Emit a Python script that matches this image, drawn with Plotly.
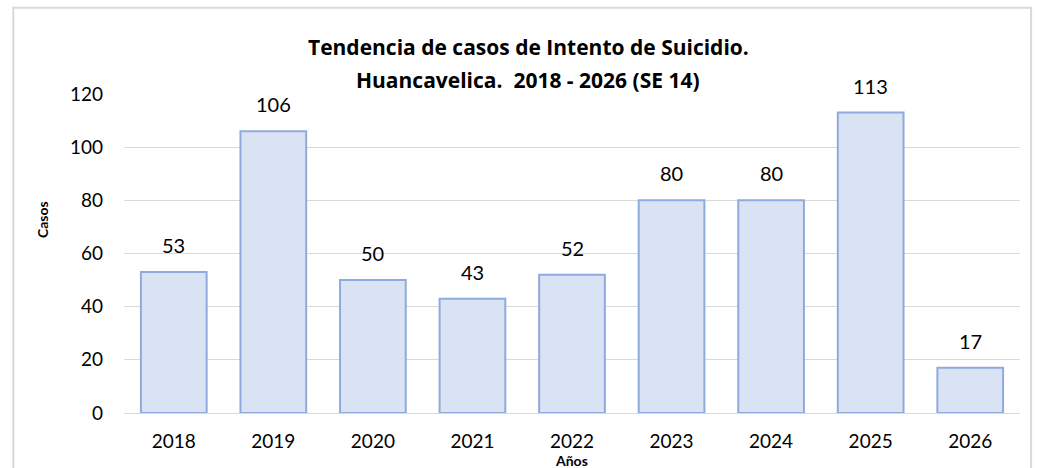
import plotly.graph_objects as go

# Casos de intento de suicidio por año
anios = ["2018", "2019", "2020", "2021", "2022", "2023", "2024", "2025", "2026"]
casos = [53, 106, 50, 43, 52, 80, 80, 113, 17]
ticks_y = [0, 20, 40, 60, 80, 100, 120]

FONT = "Lato, Open Sans, sans-serif"
FONT_TITULO = "Open Sans, Lato, sans-serif"

fig = go.Figure()
fig.add_trace(go.Bar(
    x=anios, y=casos,
    marker=dict(color="#DAE3F3", line=dict(color="#8FAADC", width=2)),
    width=0.66,
    hoverinfo="x+y",
))

# Etiquetas de valor sobre cada barra (posición por índice de categoría)
for i, c in enumerate(casos):
    fig.add_annotation(x=i, y=c, text=str(c), showarrow=False,
                       yshift=27, font=dict(size=20, color="#000000", family=FONT))

fig.update_layout(
    width=1042, height=468,
    margin=dict(l=124, r=22, t=94, b=55),
    paper_bgcolor="white", plot_bgcolor="white",
    showlegend=False,
    font=dict(family=FONT, size=19, color="#000000"),
    xaxis=dict(
        type="category", categoryorder="array", categoryarray=anios,
        range=[-0.5, len(anios) - 0.5],
        showgrid=False, showline=False, zeroline=False,
        tickfont=dict(size=19), ticks="", ticklabelstandoff=15,
    ),
    yaxis=dict(
        range=[0, 120], tickvals=ticks_y,
        showgrid=True, gridcolor="#D9D9D9", gridwidth=1.3,
        zeroline=True, zerolinecolor="#D9D9D9", zerolinewidth=1.3,
        showline=False, ticks="", ticklabelstandoff=20,
        tickfont=dict(size=19),
    ),
    shapes=[dict(type="rect", xref="paper", yref="paper",
                 x0=-0.1235, x1=1.0124, y0=-0.2, y1=1.2704,
                 line=dict(color="#D9D9D9", width=2), layer="below")],
)

# Título en dos líneas
titulo = ["Tendencia de casos de Intento de Suicidio.",
          "Huancavelica.  2018 - 2026 (SE 14)"]
for txt, yp in zip(titulo, [1.147, 1.044]):
    fig.add_annotation(text=f"<b>{txt}</b>", xref="paper", yref="paper",
                       x=0.4509, y=yp, xanchor="center", yanchor="middle",
                       showarrow=False, font=dict(size=21, family=FONT_TITULO))

fig.add_annotation(text="<b>Años</b>", xref="paper", yref="paper",
                   x=0.499, y=-0.150, yanchor="middle", showarrow=False,
                   font=dict(size=14, family=FONT))
fig.add_annotation(text="<b>Casos</b>", xref="paper", yref="paper",
                   x=-0.0915, y=0.605, xanchor="center", yanchor="middle",
                   textangle=-90, showarrow=False,
                   font=dict(size=14, family=FONT))

fig.write_html("out.html")
